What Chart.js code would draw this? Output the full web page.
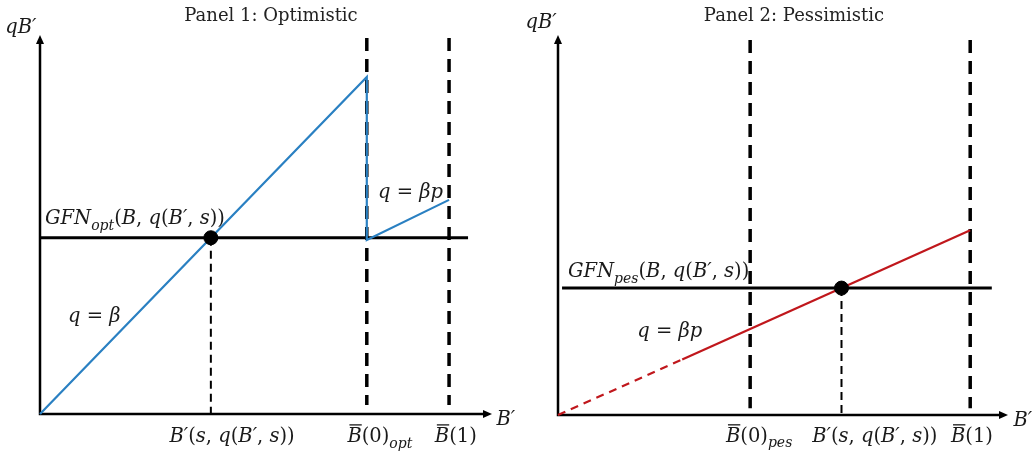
<!DOCTYPE html>
<html>
<head>
<meta charset="utf-8">
<script src="https://cdn.jsdelivr.net/npm/chart.js@4.4.1/dist/chart.umd.min.js"></script>
<style>
  html, body { margin: 0; padding: 0; background: #fff; }
  #wrap { position: relative; width: 1035px; height: 455px; }
  #p1 { position: absolute; left: 0; top: 0; }
  #p2 { position: absolute; left: 517px; top: 0; }
</style>
</head>
<body>
<div id="wrap">
  <canvas id="p1" width="517" height="455"></canvas>
  <canvas id="p2" width="518" height="455"></canvas>
</div>
<script>
// ---- data (abstract units, axes run 0..100) ----
const panelTitles = ["Panel 1: Optimistic", "Panel 2: Pessimistic"];

// panel 1: optimistic
const optCurveX = [0, 72.3, 72.3, 90.5];
const optCurveY = [0, 88.9, 45.9, 56.5];
const optGfnX = [0, 94.7];
const optGfnLevel = 46.5;
const optEqX = 37.8;
const optBarsX = [72.3, 90.5];
const optBarsY = [99.2, 2.4];

// panel 2: pessimistic
const pesCurveX = [0, 27.6, 91.6];
const pesCurveY = [0, 14.6, 48.6];
const pesGfnX = [0.9, 96.4];
const pesGfnLevel = 33.4;
const pesEqX = 63.0;
const pesBarsX = [42.7, 91.6];
const pesBarsY = [98.7, 1.8];

const BLUE = "#2a80c2";
const RED = "#c0171c";
const FAM = '"DejaVu Serif", "Liberation Serif", serif';
const MATH_SIZE = 19.5;

// ---- text helper: segments [text, kind]  i=italic r=roman s=subscript b=barred italic ----
function drawMath(ctx, segs, x, y, align, size) {
    const fontOf = k => {
        if (k === "r") return size + "px " + FAM;
        if (k === "s") return "italic " + Math.round(size * 0.72) + "px " + FAM;
        return "italic " + size + "px " + FAM;
    };
    let total = 0;
    const widths = segs.map(s => {
        ctx.font = fontOf(s[1]);
        const w = ctx.measureText(s[0]).width;
        total += w;
        return w;
    });
    let cx = align === "center" ? x - total / 2 : align === "right" ? x - total : x;
    ctx.save();
    ctx.fillStyle = "#1a1a1a";
    ctx.textBaseline = "alphabetic";
    ctx.textAlign = "left";
    segs.forEach((s, i) => {
        ctx.font = fontOf(s[1]);
        const yy = s[1] === "s" ? y + size * 0.3 : y;
        ctx.fillText(s[0], cx, yy);
        if (s[1] === "b") {
            ctx.strokeStyle = "#1a1a1a";
            ctx.lineWidth = 1.3;
            ctx.beginPath();
            ctx.moveTo(cx + 2, y - size * 0.86);
            ctx.lineTo(cx + widths[i], y - size * 0.86);
            ctx.stroke();
        }
        cx += widths[i];
    });
    ctx.restore();
}

const eqLabel = [["B′", "i"], ["(", "r"], ["s", "i"], [", ", "r"], ["q", "i"], ["(", "r"], ["B′", "i"], [", ", "r"], ["s", "i"], ["))", "r"]];
const gfnTail = [["(", "r"], ["B", "i"], [", ", "r"], ["q", "i"], ["(", "r"], ["B′", "i"], [", ", "r"], ["s", "i"], ["))", "r"]];

// ---- axes + labels plugin ----
function diagramPlugin(title, titleX, labels) {
    return {
        id: "diagram",
        beforeDatasetsDraw(chart) {
            const { ctx, chartArea: a } = chart;
            ctx.save();
            ctx.strokeStyle = "#000";
            ctx.fillStyle = "#000";
            ctx.lineWidth = 2.5;
            ctx.beginPath();
            ctx.moveTo(a.left, a.top + 6);
            ctx.lineTo(a.left, a.bottom);
            ctx.lineTo(a.right - 6, a.bottom);
            ctx.stroke();
            // arrow heads
            ctx.beginPath();
            ctx.moveTo(a.left, a.top);
            ctx.lineTo(a.left - 4, a.top + 9);
            ctx.lineTo(a.left + 4, a.top + 9);
            ctx.closePath();
            ctx.fill();
            ctx.beginPath();
            ctx.moveTo(a.right, a.bottom);
            ctx.lineTo(a.right - 9, a.bottom - 4);
            ctx.lineTo(a.right - 9, a.bottom + 4);
            ctx.closePath();
            ctx.fill();
            ctx.restore();
        },
        afterDraw(chart) {
            const { ctx } = chart;
            const xs = chart.scales.x, ys = chart.scales.y;
            ctx.save();
            ctx.font = "18px " + FAM;
            ctx.fillStyle = "#222";
            ctx.textAlign = "center";
            ctx.textBaseline = "alphabetic";
            ctx.fillText(title, titleX, 21);
            ctx.restore();
            labels.forEach(l => {
                drawMath(ctx, l.segs, xs.getPixelForValue(l.x), ys.getPixelForValue(l.y), l.align, MATH_SIZE);
            });
        }
    };
}

function pts(xs, ys) {
    return xs.map((x, i) => ({ x: x, y: ys[i] }));
}

function vline(x, yr, width, dash) {
    return {
        data: [{ x: x, y: yr[0] }, { x: x, y: yr[1] }],
        borderColor: "#000", borderWidth: width, borderDash: dash,
        showLine: true, pointRadius: 0, clip: false
    };
}

function makeChart(id, pad, datasets, plugin) {
    return new Chart(document.getElementById(id), {
        type: "scatter",
        data: { datasets: datasets },
        options: {
            responsive: false,
            animation: false,
            layout: { padding: pad },
            scales: {
                x: { type: "linear", min: 0, max: 100, display: false },
                y: { type: "linear", min: 0, max: 100, display: false }
            },
            plugins: { legend: { display: false }, tooltip: { enabled: false }, title: { display: false } }
        },
        plugins: [plugin]
    });
}

// ---- panel 1 ----
makeChart("p1", { left: 40, right: 25, top: 35, bottom: 41 }, [
    { data: [{ x: optEqX, y: optGfnLevel }], pointRadius: 7, pointBackgroundColor: "#000", pointBorderColor: "#000", clip: false },
    { data: pts(optCurveX, optCurveY), borderColor: BLUE, borderWidth: 2.2, showLine: true, pointRadius: 0, clip: false },
    { data: pts(optGfnX, [optGfnLevel, optGfnLevel]), borderColor: "#000", borderWidth: 3, showLine: true, pointRadius: 0, clip: false },
    vline(optEqX, [optGfnLevel, 0], 2, [8, 5]),
    vline(optBarsX[0], optBarsY, 3.5, [13, 8]),
    vline(optBarsX[1], optBarsY, 3.5, [13, 8])
], diagramPlugin(panelTitles[0], 271, [
    { x: -0.8, y: 100.5, align: "right", segs: [["qB′", "i"]] },
    { x: 101.0, y: -2.8, align: "left", segs: [["B′", "i"]] },
    { x: 1.1, y: 50.1, align: "left", segs: [["GFN", "i"], ["opt", "s"]].concat(gfnTail) },
    { x: 6.2, y: 24.3, align: "left", segs: [["q", "i"], [" = ", "r"], ["β", "i"]] },
    { x: 74.8, y: 57.0, align: "left", segs: [["q", "i"], [" = ", "r"], ["βp", "i"]] },
    { x: 42.5, y: -7.3, align: "center", segs: eqLabel },
    { x: 75.2, y: -7.3, align: "center", segs: [["B", "b"], ["(0)", "r"], ["opt", "s"]] },
    { x: 92.0, y: -7.3, align: "center", segs: [["B", "b"], ["(1)", "r"]] }
]));

// ---- panel 2 ----
makeChart("p2", { left: 41, right: 27, top: 35, bottom: 40 }, [
    { data: [{ x: pesEqX, y: pesGfnLevel }], pointRadius: 7, pointBackgroundColor: "#000", pointBorderColor: "#000", clip: false },
    {
        data: pts(pesCurveX, pesCurveY), borderColor: RED, borderWidth: 2.2, showLine: true, pointRadius: 0, clip: false,
        segment: { borderDash: c => c.p0DataIndex === 0 ? [8, 6] : undefined }
    },
    { data: pts(pesGfnX, [pesGfnLevel, pesGfnLevel]), borderColor: "#000", borderWidth: 3, showLine: true, pointRadius: 0, clip: false },
    vline(pesEqX, [pesGfnLevel, 0], 2, [8, 5]),
    vline(pesBarsX[0], pesBarsY, 3.5, [13, 8]),
    vline(pesBarsX[1], pesBarsY, 3.5, [13, 8])
], diagramPlugin(panelTitles[1], 277, [
    { x: -0.3, y: 101.8, align: "right", segs: [["qB′", "i"]] },
    { x: 101.2, y: -3.0, align: "left", segs: [["B′", "i"]] },
    { x: 2.2, y: 36.3, align: "left", segs: [["GFN", "i"], ["pes", "s"]].concat(gfnTail) },
    { x: 17.6, y: 20.5, align: "left", segs: [["q", "i"], [" = ", "r"], ["βp", "i"]] },
    { x: 44.7, y: -7.0, align: "center", segs: [["B", "b"], ["(0)", "r"], ["pes", "s"]] },
    { x: 70.4, y: -7.0, align: "center", segs: eqLabel },
    { x: 92.0, y: -7.0, align: "center", segs: [["B", "b"], ["(1)", "r"]] }
]));
</script>
</body>
</html>
